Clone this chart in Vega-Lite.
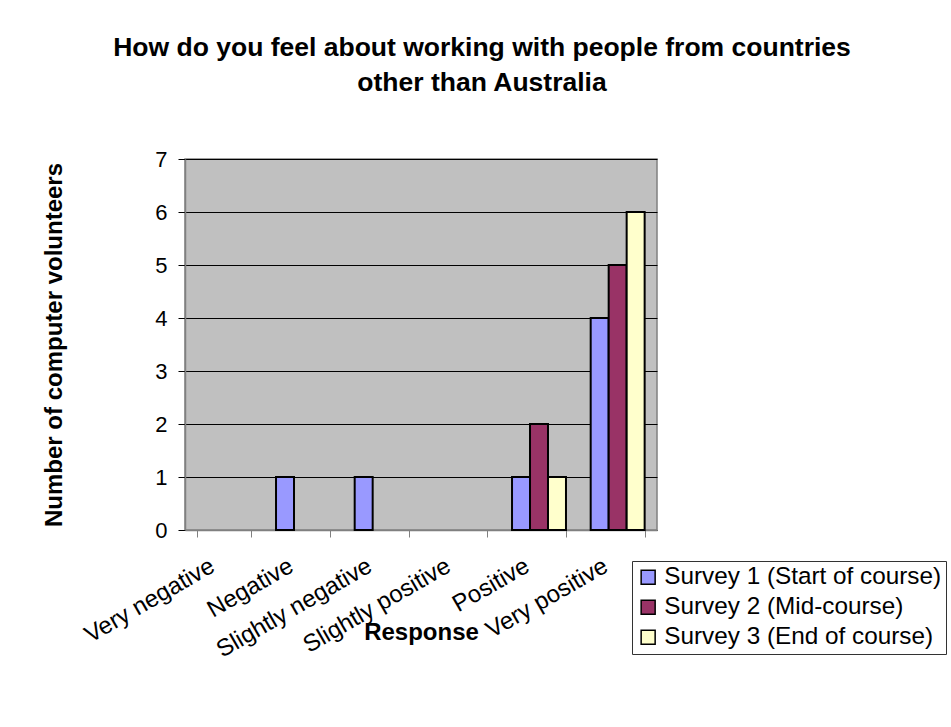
{
  "$schema": "https://vega.github.io/schema/vega-lite/v6.json",
  "width": 472,
  "height": 371,
  "autosize": {"type": "none"},
  "padding": {"left": 185, "top": 159, "right": 294, "bottom": 197},
  "background": "white",
  "title": {
    "text": ["How do you feel about working with people from countries", "other than Australia"],
    "fontSize": 26.5,
    "fontWeight": "bold",
    "font": "Liberation Sans",
    "lineHeight": 35,
    "anchor": "middle",
    "dx": 61,
    "offset": 52,
    "color": "black"
  },
  "data": {
    "values": [
      {"Response": "Very negative", "Survey": "Survey 1 (Start of course)", "count": 0},
      {"Response": "Very negative", "Survey": "Survey 2 (Mid-course)", "count": 0},
      {"Response": "Very negative", "Survey": "Survey 3 (End of course)", "count": 0},
      {"Response": "Negative", "Survey": "Survey 1 (Start of course)", "count": 1},
      {"Response": "Negative", "Survey": "Survey 2 (Mid-course)", "count": 0},
      {"Response": "Negative", "Survey": "Survey 3 (End of course)", "count": 0},
      {"Response": "Slightly negative", "Survey": "Survey 1 (Start of course)", "count": 1},
      {"Response": "Slightly negative", "Survey": "Survey 2 (Mid-course)", "count": 0},
      {"Response": "Slightly negative", "Survey": "Survey 3 (End of course)", "count": 0},
      {"Response": "Slightly positive", "Survey": "Survey 1 (Start of course)", "count": 0},
      {"Response": "Slightly positive", "Survey": "Survey 2 (Mid-course)", "count": 0},
      {"Response": "Slightly positive", "Survey": "Survey 3 (End of course)", "count": 0},
      {"Response": "Positive", "Survey": "Survey 1 (Start of course)", "count": 1},
      {"Response": "Positive", "Survey": "Survey 2 (Mid-course)", "count": 2},
      {"Response": "Positive", "Survey": "Survey 3 (End of course)", "count": 1},
      {"Response": "Very positive", "Survey": "Survey 1 (Start of course)", "count": 4},
      {"Response": "Very positive", "Survey": "Survey 2 (Mid-course)", "count": 5},
      {"Response": "Very positive", "Survey": "Survey 3 (End of course)", "count": 6}
    ]
  },
  "transform": [{"filter": "datum.count > 0"}],
  "mark": {"type": "bar", "stroke": "black", "strokeWidth": 2},
  "encoding": {
    "x": {
      "field": "Response",
      "type": "nominal",
      "sort": ["Very negative", "Negative", "Slightly negative", "Slightly positive", "Positive", "Very positive"],
      "scale": {"domain": ["Very negative", "Negative", "Slightly negative", "Slightly positive", "Positive", "Very positive"], "paddingInner": 0.314, "paddingOuter": 0.157},
      "axis": {
        "title": "Response",
        "labelAngle": -30,
        "labelAlign": "right",
        "labelBaseline": "middle",
        "labelFontSize": 24,
        "labelFont": "Liberation Sans",
        "labelColor": "black",
        "labelPadding": 27,
        "labelOffset": -12,
        "labelLimit": 400,
        "tickBand": "extent",
        "tickSize": 7,
        "tickColor": "#808080",
        "domainColor": "#808080",
        "domainWidth": 1.5,
        "titleFontSize": 24,
        "titleFont": "Liberation Sans",
        "titleFontWeight": "bold",
        "titleColor": "black",
        "titleBaseline": "middle",
        "titleY": 102
      }
    },
    "xOffset": {
      "field": "Survey",
      "type": "nominal",
      "scale": {"paddingInner": 0, "paddingOuter": 0}
    },
    "y": {
      "field": "count",
      "type": "quantitative",
      "scale": {"domain": [0, 7]},
      "axis": {
        "title": "Number of computer volunteers",
        "values": [0, 1, 2, 3, 4, 5, 6, 7],
        "labelFontSize": 22,
        "labelFont": "Liberation Sans",
        "labelColor": "black",
        "labelPadding": 11,
        "tickSize": 7,
        "tickColor": "black",
        "domainColor": "#808080",
        "domainWidth": 1.5,
        "grid": true,
        "gridColor": "black",
        "gridWidth": 1,
        "titleFontSize": 24,
        "titleFont": "Liberation Sans",
        "titleFontWeight": "bold",
        "titleColor": "black",
        "titlePadding": 88
      }
    },
    "color": {
      "field": "Survey",
      "type": "nominal",
      "scale": {
        "domain": ["Survey 1 (Start of course)", "Survey 2 (Mid-course)", "Survey 3 (End of course)"],
        "range": ["#9999FF", "#993366", "#FFFFCC"]
      },
      "legend": {
        "title": null,
        "orient": "none",
        "legendX": 447,
        "legendY": 402,
        "symbolType": "square",
        "symbolSize": 196,
        "symbolStrokeColor": "black",
        "symbolStrokeWidth": 1.5,
        "symbolOpacity": 1,
        "labelFontSize": 24.3,
        "labelFont": "Liberation Sans",
        "labelColor": "black",
        "labelOffset": 4,
        "labelLimit": 400,
        "rowPadding": 5,
        "padding": 4,
        "strokeColor": "#333333",
        "fillColor": "white"
      }
    }
  },
  "config": {
    "view": {"fill": "#C0C0C0", "stroke": "#808080", "strokeWidth": 1.5},
    "axis": {"gridDash": []}
  }
}
